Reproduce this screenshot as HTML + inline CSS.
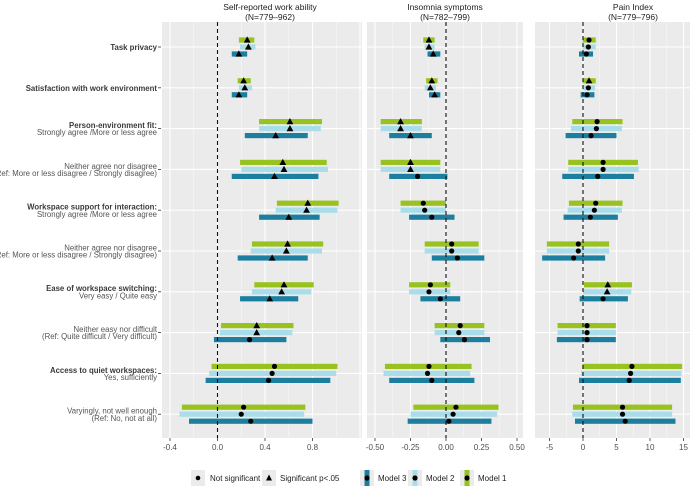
<!DOCTYPE html>
<html><head><meta charset="utf-8"><style>
body{margin:0;background:#fff;}
svg{display:block;font-family:"Liberation Sans",Arial,sans-serif;}
</style></head><body>
<svg id="chart" width="691" height="486" viewBox="0 0 691 486" xmlns="http://www.w3.org/2000/svg"></svg>
<script>
const rowTitles = ["Task privacy","Satisfaction with work environment","Person-environment  fit:","","Workspace support for interaction:","","Ease of workspace switching:","","Access to quiet workspaces:",""];
const rowSubs = ["","","Strongly agree /More or less agree","Neither agree nor disagree|(Ref: More or less disagree / Strongly disagree)","Strongly agree /More or less agree","Neither agree nor disagree|(Ref: More or less disagree / Strongly disagree)","Very easy / Quite easy","Neither easy nor difficult|(Ref: Quite difficult / Very difficult)","Yes, sufficiently","Varyingly, not well enough|(Ref: No, not at all)"];
const panelTitles = ["Self-reported work ability|(N=779–962)","Insomnia symptoms|(N=782–799)","Pain Index|(N=779–796)"];
const p1Ticks = [-0.4,0,0.4,0.8];
const p1TickLabels = ["-0.4","0.0","0.4","0.8"];
const p2Ticks = [-0.5,-0.25,0,0.25,0.5];
const p2TickLabels = ["-0.50","-0.25","0.00","0.25","0.50"];
const p3Ticks = [-5,0,5,10,15];
const p3TickLabels = ["-5","0","5","10","15"];
// [lo, est, hi, significant]
const p1m1 = [[0.18,0.25,0.31,1],[0.17,0.22,0.28,1],[0.35,0.61,0.88,1],[0.19,0.55,0.92,1],[0.50,0.76,1.02,1],[0.29,0.59,0.89,1],[0.31,0.56,0.81,1],[0.03,0.33,0.64,1],[-0.05,0.48,1.01,0],[-0.30,0.22,0.74,0]];
const p1m2 = [[0.19,0.26,0.32,1],[0.18,0.23,0.29,1],[0.35,0.61,0.87,1],[0.20,0.56,0.93,1],[0.49,0.75,1.01,1],[0.28,0.58,0.88,1],[0.29,0.54,0.79,1],[0.02,0.33,0.63,1],[-0.07,0.46,1.00,0],[-0.32,0.20,0.73,0]];
const p1m3 = [[0.12,0.18,0.25,1],[0.12,0.18,0.25,1],[0.23,0.49,0.76,1],[0.12,0.48,0.85,1],[0.35,0.60,0.86,1],[0.17,0.46,0.76,1],[0.19,0.44,0.68,1],[-0.03,0.27,0.58,0],[-0.10,0.43,0.95,0],[-0.24,0.28,0.80,0]];
const p2m1 = [[-0.16,-0.12,-0.08,1],[-0.14,-0.10,-0.06,1],[-0.46,-0.32,-0.17,1],[-0.46,-0.25,-0.04,1],[-0.32,-0.16,0.00,0],[-0.15,0.04,0.23,0],[-0.26,-0.11,0.03,0],[-0.08,0.10,0.27,0],[-0.43,-0.12,0.18,0],[-0.23,0.07,0.37,0]];
const p2m2 = [[-0.15,-0.12,-0.08,1],[-0.15,-0.11,-0.07,1],[-0.46,-0.32,-0.17,1],[-0.46,-0.25,-0.04,1],[-0.32,-0.15,0.00,0],[-0.15,0.04,0.23,0],[-0.26,-0.12,0.03,0],[-0.08,0.09,0.27,0],[-0.44,-0.13,0.17,0],[-0.25,0.05,0.36,0]];
const p2m3 = [[-0.13,-0.09,-0.04,1],[-0.12,-0.08,-0.04,1],[-0.40,-0.25,-0.10,1],[-0.40,-0.20,0.01,0],[-0.26,-0.10,0.06,0],[-0.10,0.08,0.27,0],[-0.18,-0.04,0.10,0],[-0.04,0.13,0.31,0],[-0.40,-0.10,0.20,0],[-0.27,0.02,0.32,0]];
const p3m1 = [[-0.05,0.9,1.9,0],[-0.05,0.9,1.9,1],[-1.6,2.1,5.9,0],[-2.2,3.0,8.2,0],[-2.1,1.9,5.9,0],[-5.4,-0.7,3.9,0],[0.15,3.7,7.3,1],[-3.8,0.6,4.9,0],[-0.1,7.3,14.8,0],[-1.5,5.9,13.3,0]];
const p3m2 = [[-0.05,0.8,1.9,0],[0.0,0.8,1.8,0],[-1.8,2.0,5.8,0],[-2.2,3.0,8.3,0],[-2.3,1.7,5.8,0],[-5.4,-0.7,3.9,0],[0.0,3.6,7.2,1],[-3.8,0.6,4.9,0],[-0.3,7.1,14.7,0],[-1.6,5.9,13.3,0]];
const p3m3 = [[-0.6,0.5,1.5,0],[-0.35,0.6,1.7,0],[-2.6,1.2,5.0,0],[-3.1,2.2,7.6,0],[-2.9,1.1,5.2,0],[-6.1,-1.4,3.3,0],[-0.5,3.0,6.7,0],[-3.9,0.6,4.9,0],[-0.6,6.9,14.6,0],[-1.2,6.3,13.8,0]];

const NS = "http://www.w3.org/2000/svg";
const svg = document.getElementById('chart');
function mk(tag, attrs, parent){const e=document.createElementNS(NS,tag);for(const k in attrs)e.setAttribute(k,attrs[k]);(parent||svg).appendChild(e);return e;}
const colors = ["#97c21f","#a9dde9","#1c7f9f"];
const plotTop = 22, plotBot = 438;
const rowY0 = 47, rowStep = 40.8;
function yRow(i){return rowY0 + i*rowStep;}
const panels = [
 {x0:162,x1:362,zero:217.5,ppu:118.75,ticks:p1Ticks,labels:p1TickLabels,data:[p1m1,p1m2,p1m3],tc:270},
 {x0:367,x1:523,zero:446,ppu:142,ticks:p2Ticks,labels:p2TickLabels,data:[p2m1,p2m2,p2m3],tc:445},
 {x0:535,x1:690,zero:583,ppu:6.7,ticks:p3Ticks,labels:p3TickLabels,data:[p3m1,p3m2,p3m3],tc:633}
];
panels.forEach((p,pi)=>{
  const g = mk('g',{});
  
  
  const sx = v => p.zero + v*p.ppu;
  const bg = mk('rect',{x:p.x0,y:plotTop,width:p.x1-p.x0,height:plotBot-plotTop,fill:"#ebebeb"},g);
  
  
  // minor gridlines
  const step = p.ticks[1]-p.ticks[0];
  for(let v=p.ticks[0]-step*2.5; v<=p.ticks[p.ticks.length-1]+step*2.5; v+=step){
    const X=sx(v); if(X>p.x0&&X<p.x1) mk('line',{x1:X,x2:X,y1:plotTop,y2:plotBot,stroke:"#f7f7f7","stroke-width":0.6},g);
  }
  for(let k=-2;k<=p.ticks.length+2;k++){
    const v=p.ticks[0]+k*step;const X=sx(v);
    if(X>p.x0&&X<p.x1) mk('line',{x1:X,x2:X,y1:plotTop,y2:plotBot,stroke:"#fff","stroke-width":1.1},g);
  }
  rowTitles.forEach((t,i)=>{mk('line',{x1:p.x0,x2:p.x1,y1:yRow(i),y2:yRow(i),stroke:"#fff","stroke-width":1.1},g);});
  // ticks
  p.ticks.forEach((v,k)=>{
    const X=sx(v);
    mk('line',{x1:X,x2:X,y1:plotBot,y2:plotBot+3,stroke:"#333","stroke-width":0.8},g);
    const t=mk('text',{x:X,y:plotBot+12,"text-anchor":"middle","font-size":8,fill:"#4d4d4d"},g);
    t.textContent=p.labels[k];
    
    
  });
  // title
  const tl = panelTitles[pi].split('|');
  tl.forEach((s,k)=>{const t=mk('text',{x:p.tc,y:10+k*10,"text-anchor":"middle","font-size":8.5,fill:"#222"},g);t.textContent=s;
    
    });
  // bars
  p.data.forEach((series,m)=>{
    series.forEach((d,i)=>{
      const y=yRow(i)+(m-1)*7;
      const x0=Math.max(sx(d[0]),p.x0), x1=Math.min(sx(d[2]),p.x1);
      const r=mk('rect',{x:x0,y:y-2.6,width:x1-x0,height:5.2,fill:colors[m]},g);
      
      
    });
  });
  const zl=mk('line',{x1:sx(0),x2:sx(0),y1:plotTop,y2:plotBot,stroke:"#111","stroke-width":1.1,"stroke-dasharray":"4,3"},g);
  
  
  p.data.forEach((series,m)=>{
    series.forEach((d,i)=>{
      const y=yRow(i)+(m-1)*7, X=sx(d[1]);
      let e;
      if(d[3]) e=mk('polygon',{points:`${X},${y-3.6} ${X-3.4},${y+2.6} ${X+3.4},${y+2.6}`,fill:"#000"},g);
      else e=mk('circle',{cx:X,cy:y,r:2.6,fill:"#000"},g);
      
      
    });
  });
});
// row labels
rowTitles.forEach((t,i)=>{
  const y=yRow(i);
  mk('line',{x1:158,x2:161,y1:y,y2:y,stroke:"#333","stroke-width":0.8});
  const lines=[];
  if(t) lines.push([t,true]);
  if(rowSubs[i]) rowSubs[i].split('|').forEach(s=>lines.push([s,false]));
  const n=lines.length;
  lines.forEach((l,k)=>{
    const cy=y+(k-(n-1)/2)*7.2;
    const e=mk('text',{x:157,y:cy+3,"text-anchor":"end","font-size":7.8,"font-weight":l[1]?"bold":"normal",fill:l[1]?"#3a3a3a":"#555"});
    e.textContent=l[0];
    
    
  });
});
// legend
const leg=mk('g',{});


function key(x,w){mk('rect',{x:x,y:470,width:w,height:16,fill:"#ebebeb"},leg);}
key(191,14);mk('circle',{cx:198,cy:478,r:2.3,fill:"#000"},leg);
let t=mk('text',{x:210,y:481,"font-size":8,fill:"#222"},leg);t.textContent="Not significant";

key(262,14);mk('polygon',{points:"269,474.5 266,480.5 272,480.5",fill:"#000"},leg);
t=mk('text',{x:280,y:481,"font-size":8,fill:"#222"},leg);t.textContent="Significant p<.05";

[["Model 3",2,360],["Model 2",1,408],["Model 1",0,460]].forEach(a=>{
  key(a[2],14);
  mk('rect',{x:a[2]+4.5,y:470,width:5,height:16,fill:colors[a[1]]},leg);
  mk('circle',{cx:a[2]+7,cy:478,r:2.6,fill:"#000"},leg);
  const e=mk('text',{x:a[2]+18,y:481,"font-size":8,fill:"#222"},leg);e.textContent=a[0];
  
  
});
</script>
</body></html>
